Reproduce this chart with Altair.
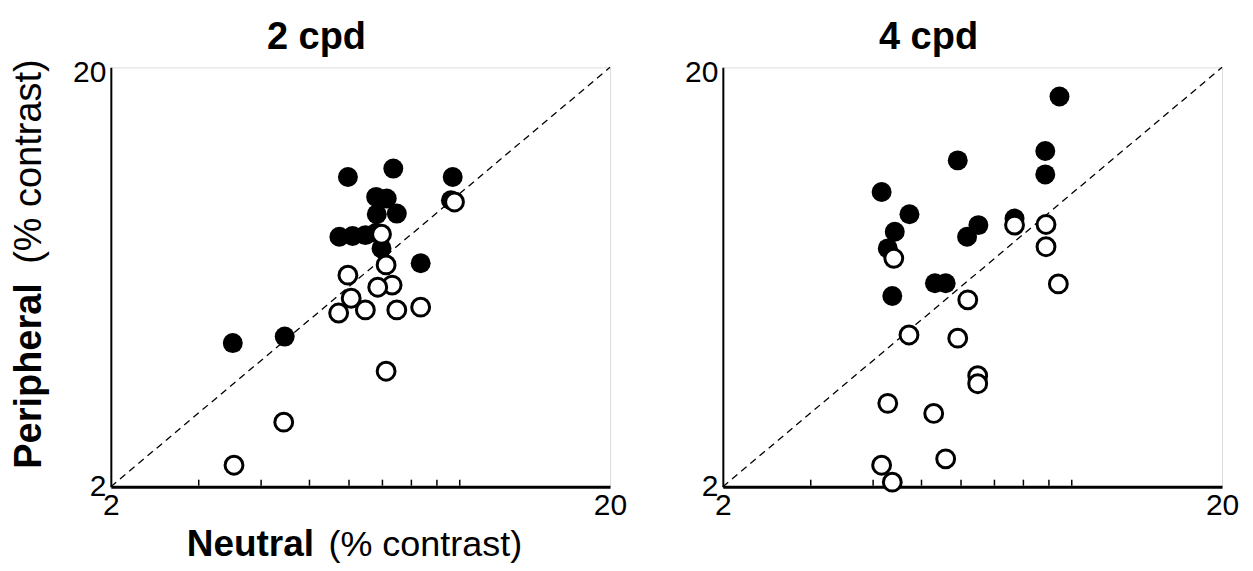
import altair as alt
import pandas as pd

# ---- 2 cpd panel ----
neutral_2_filled = [5.97, 7.36, 9.68, 9.60, 6.97, 8.35, 3.51, 4.46, 6.80, 7.14, 7.48, 6.82, 5.74, 6.10, 6.47, 6.80]
periph_2_filled = [10.95, 11.47, 10.95, 9.64, 7.40, 6.82, 4.40, 4.56, 9.82, 9.73, 8.96, 8.93, 7.89, 7.92, 7.96, 8.06]
neutral_2_open = [7.12, 5.97, 7.32, 6.85, 6.06, 6.47, 5.72, 7.48, 8.35, 7.12, 4.44, 3.53, 6.97, 9.76]
periph_2_open = [6.76, 6.39, 6.05, 5.98, 5.63, 5.28, 5.19, 5.28, 5.36, 3.77, 2.85, 2.25, 8.00, 9.55]

# ---- 4 cpd panel ----
neutral_4_filled = [9.45, 8.85, 8.85, 5.91, 4.16, 4.73, 4.42, 4.28, 4.37, 5.32, 5.59, 6.17, 6.50, 7.68]
periph_4_filled = [17.04, 12.63, 11.11, 12.00, 10.09, 8.93, 8.11, 7.40, 5.70, 6.11, 6.11, 7.89, 8.41, 8.72]
neutral_4_open = [7.68, 8.88, 8.88, 9.40, 4.40, 6.19, 4.72, 5.91, 6.48, 6.48, 4.28, 5.29, 4.16, 4.37, 5.59]
periph_4_open = [8.41, 8.44, 7.47, 6.09, 7.01, 5.58, 4.60, 4.52, 3.68, 3.52, 3.16, 2.99, 2.25, 2.05, 2.33]

axis_ends = [2, 20]
minor_ticks = [3, 4, 5, 6, 7, 8, 9, 10]
diagonal = [2, 20]

FONT = "Liberation Sans"
W, H = 500, 420


def panel(title, xf, yf, xo, yo, with_titles):
    xs = alt.Scale(type="log", domain=[2, 20], nice=False)
    ys = alt.Scale(type="log", domain=[2, 20], nice=False)
    xaxis = alt.Axis(values=axis_ends, format="d", ticks=False, grid=False, title=None,
                     domainColor="black", domainWidth=3, labelFontSize=30, labelFont=FONT,
                     labelColor="black", labelFlush=False, labelPadding=4)
    yaxis = alt.Axis(values=axis_ends, format="d", ticks=False, grid=False, title=None,
                     domainColor="black", domainWidth=2, labelFontSize=30, labelFont=FONT,
                     labelColor="black", labelFlush=False, labelPadding=5,
                     labelOffset=alt.condition("datum.value == 20", alt.value(5), alt.value(0)))

    diag = alt.Chart(pd.DataFrame({"a": diagonal, "b": diagonal})).mark_line(
        color="black", strokeWidth=1.3, strokeDash=[7, 5]
    ).encode(x=alt.X("a:Q", scale=xs, axis=xaxis), y=alt.Y("b:Q", scale=ys, axis=yaxis))

    ticks = alt.Chart(pd.DataFrame({"t": minor_ticks})).mark_rule(
        color="black", strokeWidth=1.5
    ).encode(x=alt.X("t:Q", scale=xs), y=alt.value(H - 1), y2=alt.value(H - 7))

    filled = alt.Chart(pd.DataFrame({"n": xf, "p": yf})).mark_point(
        shape="circle", filled=True, color="black", opacity=1, size=400
    ).encode(x=alt.X("n:Q", scale=xs), y=alt.Y("p:Q", scale=ys))

    opened = alt.Chart(pd.DataFrame({"n": xo, "p": yo})).mark_point(
        shape="circle", filled=False, fill="white", fillOpacity=1, stroke="black",
        strokeWidth=3, opacity=1, size=320
    ).encode(x=alt.X("n:Q", scale=xs), y=alt.Y("p:Q", scale=ys))

    layers = [diag, ticks, filled, opened]
    if with_titles:
        one = pd.DataFrame({"k": [0]})
        base = alt.Chart(one)
        layers += [
            base.mark_text(text="Neutral", font=FONT, fontSize=37, fontWeight="bold",
                           align="left", baseline="alphabetic", color="black"
                           ).encode(x=alt.value(76), y=alt.value(489)),
            base.mark_text(text="(% contrast)", font=FONT, fontSize=36, fontWeight="normal",
                           align="right", baseline="alphabetic", color="black"
                           ).encode(x=alt.value(412), y=alt.value(489)),
            base.mark_text(text="Peripheral", font=FONT, fontSize=38, fontWeight="bold",
                           align="left", baseline="middle", angle=270, color="black"
                           ).encode(x=alt.value(-81), y=alt.value(402)),
            base.mark_text(text="(% contrast)", font=FONT, fontSize=38, fontWeight="normal",
                           align="right", baseline="middle", angle=270, color="black"
                           ).encode(x=alt.value(-81), y=alt.value(-8)),
        ]
    return alt.layer(*layers).properties(
        width=W, height=H,
        title=alt.TitleParams(title, fontSize=38, fontWeight="bold", font=FONT, color="black",
                              anchor="middle", frame="group", dx=-44, offset=0)
    )


left = panel("2 cpd", neutral_2_filled, periph_2_filled, neutral_2_open, periph_2_open, True)
right = panel("4 cpd", neutral_4_filled, periph_4_filled, neutral_4_open, periph_4_open, False)

chart = alt.hconcat(left, right, spacing=56).configure_view(stroke=None).configure(
    padding={"left": 2, "top": 10, "right": 5, "bottom": 0}, background="white"
)

chart.save("out.html", embed_options={"renderer": "svg", "actions": False})
